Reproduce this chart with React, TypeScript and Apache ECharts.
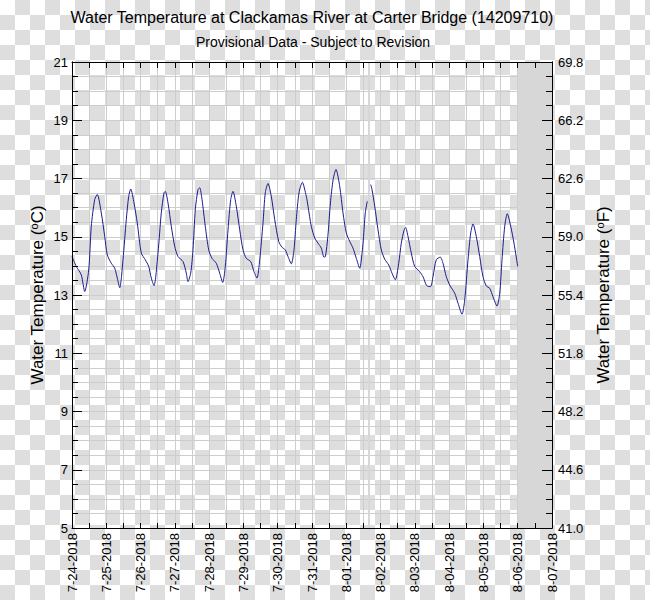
import React, { useEffect, useRef } from "react";
import * as echarts from "echarts";

const titleText = "Water Temperature at Clackamas River at Carter Bridge (14209710)";
const subtitleText = "Provisional Data - Subject to Revision";

const dateLabels = [
  "7-24-2018", "7-25-2018", "7-26-2018", "7-27-2018", "7-28-2018",
  "7-29-2018", "7-30-2018", "7-31-2018", "8-01-2018", "8-02-2018",
  "8-03-2018", "8-04-2018", "8-05-2018", "8-06-2018", "8-07-2018",
];

// hours since 7-24-2018 00:00
const hours = [
  0, 3.0, 6.5, 8.9, 11.7, 13.5, 15.9, 17.7, 20.5, 22.9, 24.7, 27.5, 29.9, 31.7, 33.4,
  35.7, 38.0, 39.7, 41.1, 43.4, 45.7, 48.5, 51.3, 53.7, 55.5, 57.4, 60.2, 62.5, 64.4,
  65.3, 67.2, 69.5, 71.9, 74.2, 77.7, 80.0, 81.2, 83.1, 84.7, 86.3, 88.2, 89.4, 91.0,
  93.3, 95.7, 98.0, 101.0, 103.4, 105.5, 107.3, 109.2, 111.1, 112.7, 115.0, 117.4,
  119.7, 122.0, 125.1, 127.4, 129.5, 131.4, 133.7, 135.3, 137.2, 139.5, 141.9, 144.7,
  147.0, 149.3, 151.2, 153.5, 155.4, 157.0, 158.9, 161.2, 164.0, 165.2, 167.5, 169.9,
  172.2, 174.5, 176.4, 177.4, 179.1, 180.9, 182.8, 184.8, 187.4, 189.7, 192.0, 194.4,
  196.7, 199.0, 201.4, 203.7, 205.3, 206.7, 207.9, 209.1, 210.0, 211.9, 214.2, 216.5,
  218.9, 221.7, 224.0, 226.3, 228.7, 230.5, 232.4, 233.5, 235.2, 237.5, 239.9, 243.4,
  245.7, 248.0, 249.7, 251.1, 252.7, 255.0, 257.8, 259.7, 262.0, 264.4, 267.9, 270.2,
  273.0, 274.9, 277.2, 279.1, 280.7, 283.0, 285.4, 287.7, 290.0, 292.4, 294.7, 297.5,
  299.4, 301.0, 302.9, 304.7, 307.1, 309.4, 312.0,
];

const tempC: (number | null)[] = [
  14.32, 13.98, 13.69, 13.12, 13.86, 15.36, 16.28, 16.45, 15.82, 15.01, 14.38, 14.09, 13.92, 13.58, 13.25,
  14.21, 15.59, 16.39, 16.64, 16.16, 15.47, 14.44, 14.21, 13.98, 13.58, 13.32, 14.44, 15.82, 16.51,
  16.56, 16.16, 15.36, 14.67, 14.32, 14.15, 13.75, 13.46, 13.75, 14.55, 15.93, 16.62, 16.68, 16.28,
  15.36, 14.55, 14.26, 14.09, 13.75, 13.43, 13.98, 15.24, 16.28, 16.56, 16.05, 15.24,
  14.55, 14.26, 14.15, 13.80, 13.58, 14.21, 15.47, 16.51, 16.83, 16.39, 15.59, 14.84,
  14.64, 14.55, 14.32, 14.07, 14.55, 15.59, 16.51, 16.87, 16.39, 16.05, 15.36, 14.96,
  14.78, 14.61, 14.30, 14.32, 15.01, 16.16, 16.97, 17.31, 16.73, 15.82, 15.13, 14.84,
  14.61, 14.26, 13.92, 14.78, 15.82, 16.22, null, 16.79, 16.62, 16.05, 15.24, 14.55,
  14.23, 14.03, 13.75, 13.52, 14.09, 14.78, 15.22, 15.32, 15.01, 14.44, 13.98, 13.80,
  13.63, 13.34, 13.29, 13.29, 13.63, 14.21, 14.30, 14.09, 13.63, 13.34, 13.06, 12.72,
  12.34, 12.83, 14.21, 15.13, 15.44, 15.01, 14.32, 13.63, 13.31, 13.23, 12.94, 12.62,
  13.06, 14.21, 15.36, 15.79, 15.36, 14.78, 13.98,
];

// shaded (no data) spans, in hours since start
const gapSpans = [
  [207.2, 208.6],
  [312, 336],
];

const FONT = "'Liberation Sans', Arial, Helvetica, sans-serif";

export default function App() {
  const ref = useRef<HTMLDivElement>(null);

  useEffect(() => {
    document.body.style.margin = "0";
    if (!ref.current) return;
    const chart = echarts.init(ref.current, null, { renderer: "svg" });

    const gridColor = "#cdcdcd";
    const black = "#000";
    const line = { show: true, lineStyle: { color: black, width: 1 } };

    const yBase = { type: "value", min: 5, max: 21 };
    const xBase = { type: "value", min: 0, max: 336, interval: 12 };

    const option: any = {
      animation: false,
      textStyle: { fontFamily: FONT },
      grid: { left: 72, right: 98, top: 62, bottom: 72, containLabel: false },
      xAxis: [
        {
          ...xBase, position: "bottom", z: 0,
          axisLine: { show: false }, axisTick: { show: false }, axisLabel: { show: false },
          splitLine: { show: true, lineStyle: { color: gridColor, width: 1 } },
        },
        {
          ...xBase, position: "bottom", z: 5,
          axisLine: line,
          axisTick: { show: true, inside: true, length: 5, lineStyle: { color: black } },
          axisLabel: {
            show: true, rotate: 90, margin: 5, fontSize: 13, color: black, fontFamily: FONT,
            formatter: (v: number) => (v % 24 === 0 ? dateLabels[v / 24] : ""),
          },
          splitLine: { show: false },
        },
        {
          ...xBase, position: "top", z: 5,
          axisLine: line,
          axisTick: { show: true, inside: true, length: 6, lineStyle: { color: black } },
          axisLabel: { show: false },
          splitLine: { show: false },
        },
      ],
      yAxis: [
        {
          ...yBase, interval: 0.5, position: "left", z: 0,
          axisLine: { show: false }, axisTick: { show: false }, axisLabel: { show: false },
          splitLine: { show: true, lineStyle: { color: gridColor, width: 1 } },
        },
        {
          ...yBase, interval: 0.5, position: "left", z: 5,
          axisLine: line,
          axisTick: { show: true, inside: true, length: 6, lineStyle: { color: black } },
          axisLabel: { show: false },
          splitLine: { show: false },
        },
        {
          ...yBase, interval: 2, position: "left", z: 5,
          axisLine: line,
          axisTick: { show: true, inside: true, length: 10, lineStyle: { color: black } },
          axisLabel: { show: true, margin: 4, fontSize: 13, color: black, fontFamily: FONT },
          splitLine: { show: false },
        },
        {
          ...yBase, interval: 0.5, position: "right", z: 5,
          axisLine: line,
          axisTick: { show: true, inside: true, length: 6, lineStyle: { color: black } },
          axisLabel: { show: false },
          splitLine: { show: false },
        },
        {
          ...yBase, interval: 2, position: "right", z: 5,
          axisLine: line,
          axisTick: { show: true, inside: true, length: 10, lineStyle: { color: black } },
          axisLabel: {
            show: true, margin: 6, fontSize: 13, color: black, fontFamily: FONT,
            formatter: (v: number) => (v * 1.8 + 32).toFixed(1),
          },
          splitLine: { show: false },
        },
      ],
      series: [
        {
          type: "line",
          xAxisIndex: 0,
          yAxisIndex: 0,
          data: hours.map((h, i) => [h, tempC[i]]),
          showSymbol: false,
          connectNulls: false,
          smooth: 0.25,
          lineStyle: { color: "#1c1c8e", width: 1 },
          z: 2,
          markArea: {
            silent: true,
            z: 1,
            itemStyle: { color: "#d7d7d7", opacity: 1 },
            data: gapSpans.map(([a, b]) => [{ xAxis: a }, { xAxis: b }]),
          },
        },
      ],
      graphic: [
        {
          type: "text", x: 312, y: 17,
          style: { text: titleText, textAlign: "center", textVerticalAlign: "middle", fontSize: 16, fontFamily: FONT, fill: black },
        },
        {
          type: "text", x: 313, y: 42,
          style: { text: subtitleText, textAlign: "center", textVerticalAlign: "middle", fontSize: 14, fontFamily: FONT, fill: black },
        },
        {
          type: "text", x: 37, y: 295, rotation: Math.PI / 2,
          style: {
            text: "Water Temperature ({sup|o}C)",
            textAlign: "center", textVerticalAlign: "middle", fontSize: 17, fontFamily: FONT, fill: black,
            rich: { sup: { fontSize: 11, fontFamily: FONT, fill: black, verticalAlign: "top" } },
          },
        },
        {
          type: "text", x: 603, y: 295, rotation: Math.PI / 2,
          style: {
            text: "Water Temperature ({sup|o}F)",
            textAlign: "center", textVerticalAlign: "middle", fontSize: 17, fontFamily: FONT, fill: black,
            rich: { sup: { fontSize: 11, fontFamily: FONT, fill: black, verticalAlign: "top" } },
          },
        },
      ],
    };

    chart.setOption(option);
    return () => chart.dispose();
  }, []);

  return (
    <div
      ref={ref}
      style={{
        width: 650,
        height: 600,
        backgroundColor: "#ffffff",
        backgroundImage: "repeating-conic-gradient(#dedede 0 25%, #ffffff 0 50%)",
        backgroundSize: "30px 30px",
      }}
    />
  );
}
